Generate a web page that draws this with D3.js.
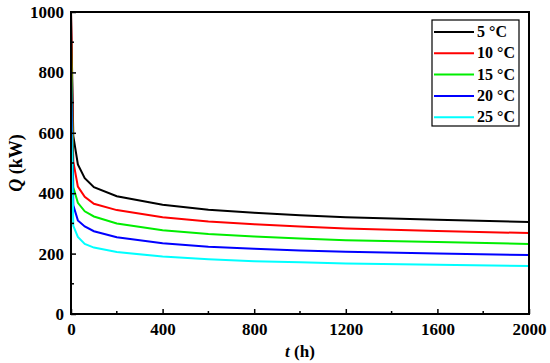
<!DOCTYPE html>
<html>
<head>
<meta charset="utf-8">
<script src="https://cdn.jsdelivr.net/npm/d3@7"></script>
<style>
  body { margin: 0; background: #fff; }
  svg { display: block; }
  svg text { font-family: "Liberation Serif", "Times New Roman", serif; font-weight: bold; }
</style>
</head>
<body>
<div id="chart"></div>
<script>
// data
const hours = [0, 10, 30, 60, 100, 200, 400, 600, 800, 1000, 1200, 1600, 2000];
const q5  = [1000, 590, 495, 450, 420, 390, 362, 345, 335, 327, 320, 312, 305];
const q10 = [1000, 505, 422, 388, 365, 344, 320, 306, 297, 290, 283, 275, 268];
const q15 = [910, 420, 368, 340, 323, 300, 277, 265, 257, 250, 244, 238, 232];
const q20 = [800, 360, 310, 290, 274, 254, 234, 223, 216, 210, 206, 200, 195];
const q25 = [700, 292, 255, 232, 220, 205, 190, 181, 175, 171, 167, 163, 159];
const seriesNames = ['5 \u00B0C', '10 \u00B0C', '15 \u00B0C', '20 \u00B0C', '25 \u00B0C'];
const seriesValues = [q5, q10, q15, q20, q25];
const colors = ['#000000', '#ff0000', '#00ee00', '#0000ff', '#00ffff'];
const xTicks = [0, 400, 800, 1200, 1600, 2000];
const yTicks = [0, 200, 400, 600, 800, 1000];

const FONT = '"Liberation Serif", "Times New Roman", serif';

const W = 550, H = 363;
const margin = { top: 12, right: 21, bottom: 49, left: 71 };
const iw = W - margin.left - margin.right;
const ih = H - margin.top - margin.bottom;

const svg = d3.select('#chart').append('svg')
    .attr('width', W)
    .attr('height', H);

const g = svg.append('g')
    .attr('transform', `translate(${margin.left},${margin.top})`);

const x = d3.scaleLinear().domain([0, 2000]).range([0, iw]);
const y = d3.scaleLinear().domain([0, 1000]).range([ih, 0]);

g.append('clipPath').attr('id', 'clip')
    .append('rect').attr('width', iw).attr('height', ih);

// lines
const line = d3.line()
    .x((d, i) => x(hours[i]))
    .y(d => y(d));

seriesValues.forEach((vals, k) => {
    g.append('path')
        .datum(vals)
        .attr('clip-path', 'url(#clip)')
        .attr('fill', 'none')
        .attr('stroke', colors[k])
        .attr('stroke-width', 2)
        .attr('d', line);
});

// axes, ticks pointing inward
const xAxis = d3.axisBottom(x).tickValues(xTicks).tickFormat(d3.format('d'))
    .tickSizeInner(-5).tickSizeOuter(0).tickPadding(9);
const yAxis = d3.axisLeft(y).tickValues(yTicks).tickFormat(d3.format('d'))
    .tickSizeInner(-5).tickSizeOuter(0).tickPadding(7);

const gx = g.append('g').attr('transform', `translate(0,${ih})`).call(xAxis);
const gy = g.append('g').call(yAxis);

// minor ticks
const xMinor = d3.range(200, 2000, 400);
const yMinor = d3.range(100, 1000, 200);
g.selectAll('.xminor').data(xMinor).enter().append('line')
    .attr('x1', d => x(d)).attr('x2', d => x(d))
    .attr('y1', ih).attr('y2', ih - 3)
    .attr('stroke', '#000').attr('stroke-width', 1.5);
g.selectAll('.yminor').data(yMinor).enter().append('line')
    .attr('x1', 0).attr('x2', 3)
    .attr('y1', d => y(d)).attr('y2', d => y(d))
    .attr('stroke', '#000').attr('stroke-width', 1.5);

[gx, gy].forEach(ax => {
    ax.attr('font-family', FONT).attr('font-size', 17);
    ax.select('.domain').remove();
    ax.selectAll('.tick line').attr('stroke', '#000').attr('stroke-width', 1.5);
    ax.selectAll('.tick text')
        .attr('fill', '#000')
        .attr('font-weight', 'bold');
});

// frame
g.append('rect')
    .attr('width', iw).attr('height', ih)
    .attr('fill', 'none')
    .attr('stroke', '#000')
    .attr('stroke-width', 2);

// axis titles
const xt = svg.append('text')
    .attr('x', margin.left + iw / 2)
    .attr('y', H - 6)
    .attr('text-anchor', 'middle')
    .attr('font-family', FONT)
    .attr('font-size', 17);
xt.append('tspan').style('font-style', 'italic').text('t');
xt.append('tspan').text(' (h)');

const yt = svg.append('text')
    .attr('transform', `translate(22,${margin.top + ih / 2}) rotate(-90)`)
    .attr('text-anchor', 'middle')
    .attr('font-family', FONT)
    .attr('font-size', 18);
yt.append('tspan').style('font-style', 'italic').text('Q');
yt.append('tspan').text(' (kW)');

// legend
const lg = svg.append('g').attr('transform', 'translate(432,20)');
lg.append('rect')
    .attr('width', 87).attr('height', 106)
    .attr('fill', '#fff')
    .attr('stroke', '#000')
    .attr('stroke-width', 1.2);
seriesNames.forEach((name, k) => {
    const yy = 12 + k * 21.3;
    lg.append('line')
        .attr('x1', 2).attr('x2', 42)
        .attr('y1', yy).attr('y2', yy)
        .attr('stroke', colors[k])
        .attr('stroke-width', 2);
    lg.append('text')
        .attr('x', 45).attr('y', yy + 5)
        .attr('font-family', FONT)
        .attr('font-size', 16)
        .text(name);
});
</script>
</body>
</html>
